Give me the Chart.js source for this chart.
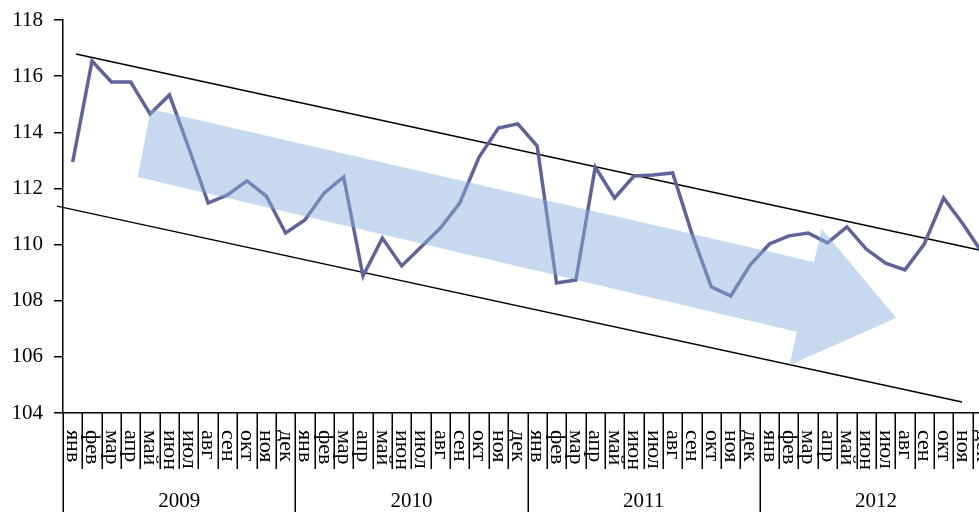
<!DOCTYPE html>
<html>
<head>
<meta charset="utf-8">
<script src="https://cdn.jsdelivr.net/npm/chart.js@4/dist/chart.umd.min.js"></script>
<style>
  html, body { margin: 0; padding: 0; background: #fff; overflow: hidden; }
  #wrap { width: 1000px; height: 512px; }
</style>
</head>
<body>
<div id="wrap"><canvas id="c" width="1000" height="512"></canvas></div>
<script>
// ---- data ----
const months = ['янв','фев','мар','апр','май','июн','июл','авг','сен','окт','ноя','дек'];
const years = ['2009','2010','2011','2012'];
const yTicks = [104, 106, 108, 110, 112, 114, 116, 118];

const values2009 = [112.94, 116.54, 115.79, 115.79, 114.65, 115.33, 113.44, 111.48, 111.77, 112.27, 111.73, 110.41];
const values2010 = [110.88, 111.84, 112.41, 108.88, 110.23, 109.24, 109.91, 110.59, 111.48, 113.12, 114.15, 114.30];
const values2011 = [113.51, 108.63, 108.74, 112.76, 111.66, 112.44, 112.48, 112.55, 110.38, 108.49, 108.17, 109.27];
const values2012 = [110.02, 110.31, 110.41, 110.06, 110.63, 109.84, 109.34, 109.10, 110.02, 111.66, 110.73, 109.70];

// trend channel (month index, value)
const upperTrendX = [0.17, 46.9];
const upperTrendY = [116.79, 109.80];
const lowerTrendX = [-0.81, 45.95];
const lowerTrendY = [111.37, 104.39];

// block arrow outline (month index, value)
const arrowX = [4.03, 38.3, 38.7, 42.55, 37.05, 37.42, 3.36];
const arrowY = [114.83, 109.38, 110.56, 107.38, 105.71, 106.89, 112.41];

// ---- build ----
const labels = [];
years.forEach(() => months.forEach(m => labels.push(m)));
const values = [].concat(values2009, values2010, values2011, values2012);
const toPts = (xs, ys) => xs.map((x, i) => ({ x: x, y: ys[i] }));

const FONT = '"Liberation Serif", "Times New Roman", serif';

const arrowPlugin = {
  id: 'arrowPlugin',
  afterDatasetsDraw(chart) {
    const ctx = chart.ctx, xs = chart.scales.xl, ys = chart.scales.y;
    ctx.save();
    ctx.fillStyle = 'rgba(136,176,220,0.48)';
    ctx.beginPath();
    arrowX.forEach((x, i) => {
      const px = xs.getPixelForValue(x), py = ys.getPixelForValue(arrowY[i]);
      if (i === 0) ctx.moveTo(px, py); else ctx.lineTo(px, py);
    });
    ctx.closePath();
    ctx.fill();
    ctx.restore();
  }
};

const axisPlugin = {
  id: 'axisPlugin',
  afterDraw(chart) {
    const ctx = chart.ctx, xs = chart.scales.x, area = chart.chartArea;
    const n = labels.length;
    ctx.save();
    ctx.strokeStyle = '#000';
    ctx.lineWidth = 1.5;
    for (let i = 0; i <= n; i++) {
      const x = Math.round(xs.getPixelForValue(i - 0.5)) + 0.25;
      const isYear = i % 12 === 0;
      ctx.beginPath();
      ctx.moveTo(x, area.bottom);
      ctx.lineTo(x, isYear ? chart.height : area.bottom + 56);
      ctx.stroke();
    }
    ctx.fillStyle = '#000';
    ctx.font = '22px ' + FONT;
    ctx.textAlign = 'left';
    ctx.textBaseline = 'middle';
    for (let i = 0; i < n; i++) {
      const x = xs.getPixelForValue(i);
      ctx.save();
      ctx.translate(x, area.bottom + 17);
      ctx.rotate(Math.PI / 2);
      ctx.fillText(labels[i], 0, 0);
      ctx.restore();
    }
    ctx.font = '21px ' + FONT;
    ctx.textAlign = 'center';
    ctx.textBaseline = 'middle';
    years.forEach((yr, k) => {
      const x = xs.getPixelForValue(k * 12 + 5.5);
      ctx.fillText(yr, x, area.bottom + 88);
    });
    ctx.restore();
  }
};

new Chart(document.getElementById('c'), {
  type: 'line',
  data: {
    labels: labels,
    datasets: [
      {
        data: toPts(upperTrendX, upperTrendY),
        xAxisID: 'xl',
        borderColor: '#000',
        borderWidth: 1.5,
        pointRadius: 0,
        clip: false,
        order: 2
      },
      {
        data: toPts(lowerTrendX, lowerTrendY),
        xAxisID: 'xl',
        borderColor: '#000',
        borderWidth: 1.5,
        pointRadius: 0,
        clip: false,
        order: 2
      },
      {
        data: values,
        xAxisID: 'x',
        borderColor: '#5f6399',
        borderWidth: 3.5,
        pointRadius: 0,
        tension: 0,
        clip: false,
        order: 1
      }
    ]
  },
  options: {
    responsive: false,
    animation: false,
    devicePixelRatio: 1,
    layout: { padding: { left: 0, right: 8, top: 20, bottom: 0 } },
    plugins: { legend: { display: false }, tooltip: { enabled: false } },
    scales: {
      x: {
        type: 'category',
        offset: true,
        ticks: { display: false },
        grid: { display: false },
        border: { display: true, color: '#000', width: 1.5 },
        afterFit(s) { s.height = 99; s.paddingLeft = 0; s.paddingRight = 0; }
      },
      xl: {
        type: 'linear',
        display: false,
        min: -0.5,
        max: 47.5
      },
      y: {
        min: 104,
        max: 118,
        afterBuildTicks(s) { s.ticks = yTicks.map(v => ({ value: v })); },
        ticks: { color: '#000', font: { family: FONT, size: 21 }, padding: 11 },
        grid: { display: true, drawOnChartArea: false, drawTicks: true, tickLength: 9, color: '#000', lineWidth: 1.5 },
        border: { display: true, color: '#000', width: 1.5 },
        afterFit(s) { s.width = 63; s.paddingTop = 0; s.paddingBottom = 0; }
      }
    }
  },
  plugins: [arrowPlugin, axisPlugin]
});
</script>
</body>
</html>
